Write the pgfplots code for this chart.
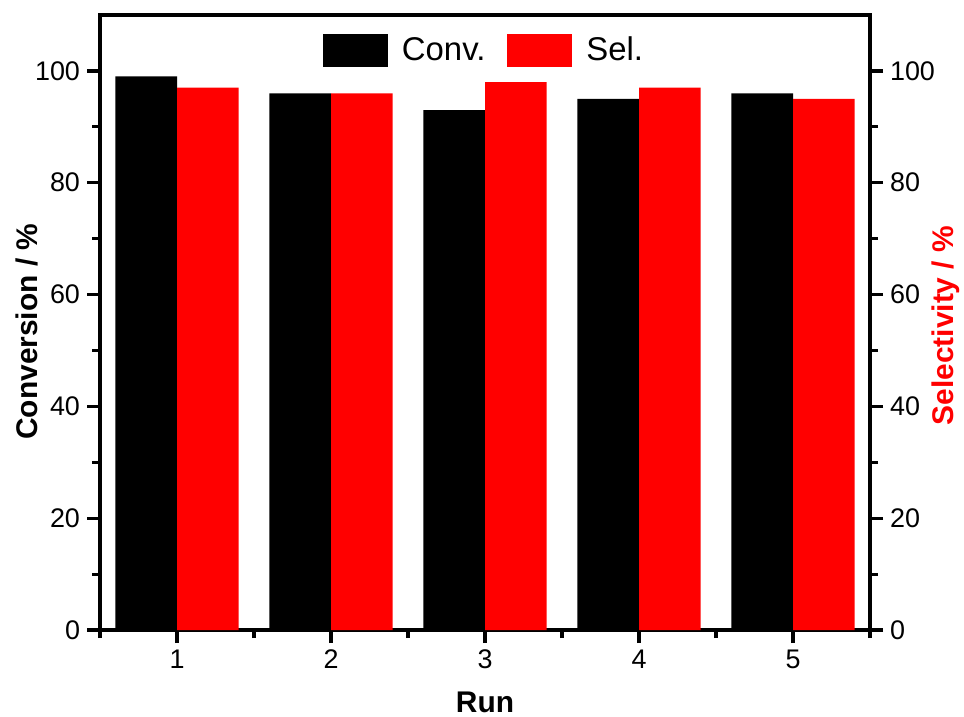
\documentclass[border=0pt]{standalone}
\usepackage{fontspec}
\setmainfont{Liberation Sans}
\usepackage{pgfplots}
\pgfplotsset{compat=1.18}
\definecolor{selred}{RGB}{255,0,0}
\begin{document}
\begin{tikzpicture}
\pgfplotsset{
  common/.style={
    width=385bp, height=307.5bp, scale only axis,
    xmin=0.5, xmax=5.5, ymin=0, ymax=110,
    axis line style={line width=1.6bp},
    tick style={line width=1.6bp, black},
    major tick length=6.5bp, minor tick length=4bp,
    tick align=outside,
    ytick={0,20,...,100}, minor ytick={10,30,...,90},
    /pgf/number format/assume math mode=true,
    tick label style={font=\fontsize{13.5}{15}\selectfont},
    label style={font=\bfseries\fontsize{15}{18}\selectfont},
  }
}
\begin{axis}[common, name=main,
  ybar=0pt, bar width=0.4,
  xtick={1,2,3,4,5}, minor xtick={0.5,1.5,...,5.5},
  xtick pos=bottom, ytick pos=left,
  xlabel={Run}, ylabel={Conversion / \%},
  x label style={at={(axis description cs:0.5,-0.117)}, anchor=center},
  y label style={at={(axis description cs:-0.0948,0.485)}, anchor=center},
  legend style={at={(0.5,0.943)}, anchor=center, draw=none, fill=none,
    legend columns=2, font=\fontsize{16.5}{19}\selectfont,
    /tikz/every odd column/.append style={column sep=5bp},
    /tikz/every even column/.append style={column sep=9bp}},
  legend image code/.code={\fill[#1] (0bp,-8.25bp) rectangle (32.5bp,8.25bp);},
]
\addplot[fill=black, draw=none] coordinates {(1,99) (2,96) (3,93) (4,95) (5,96)};
\addlegendentry{Conv.}
\addplot[fill=selred, draw=none] coordinates {(1,97) (2,96) (3,98) (4,97) (5,95)};
\addlegendentry{Sel.}
\end{axis}
\begin{axis}[common,
  axis y line*=right, axis x line=none,
  ylabel={Selectivity / \%},
  y label style={color=selred, at={(axis description cs:1.0987,0.495)}, anchor=center, rotate=0},
]
\end{axis}
\pgfresetboundingbox
\path ([shift={(-50bp,-43bp)}]main.south west) rectangle ([shift={(47bp,7.5bp)}]main.north east);
\end{tikzpicture}
\end{document}
